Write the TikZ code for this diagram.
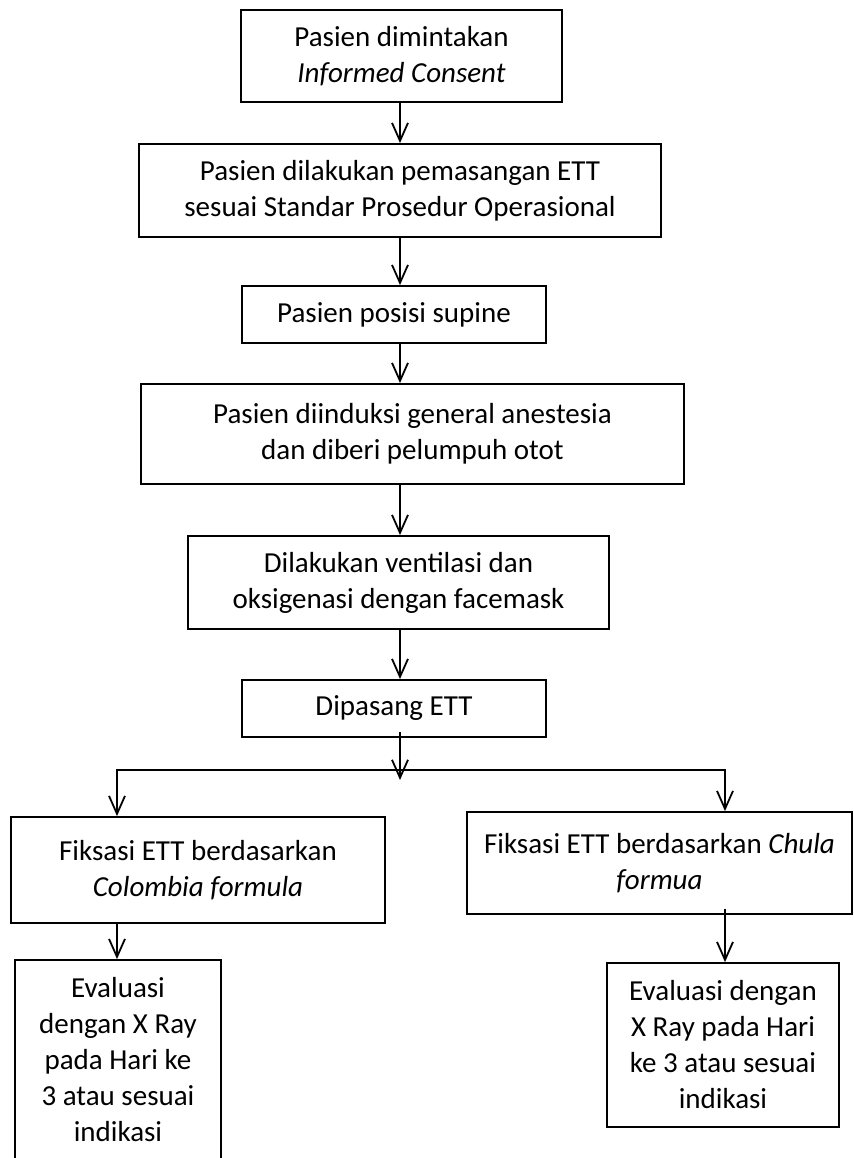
\documentclass[tikz,border=0pt]{standalone}
\usepackage{fontspec}
\setmainfont{Carlito}
\usetikzlibrary{arrows.meta}
\begin{document}
\begin{tikzpicture}[x=0.5pt,y=-0.5pt,
  box/.style={draw, line width=0.9pt, align=center, inner sep=0pt, font=\fontsize{14.5}{18}\selectfont},
  sz/.style 2 args={minimum width=#1*0.5pt, minimum height=#2*0.5pt},
  conn/.style={line width=0.9pt, line cap=rect},
  arr/.style={line width=0.9pt, -{Straight Barb[length=9pt,width=8pt,line width=0.9pt]}}]
\useasboundingbox (0,0) rectangle (854,1158);
\node[box, sz={321}{92}] (b1) at (401.5,56) {Pasien dimintakan\\\textit{Informed Consent}};
\node[box, sz={522}{93}] (b2) at (400,190.5) {Pasien dilakukan pemasangan ETT\\sesuai Standar Prosedur Operasional};
\node[box, sz={304}{57}] (b3) at (394,314.5) {Pasien posisi supine};
\node[box, sz={543}{100}] (b4) at (412.5,434) {Pasien diinduksi general anestesia\\dan diberi pelumpuh otot};
\node[box, sz={421}{93}] (b5) at (398.5,582.5) {Dilakukan ventilasi dan\\oksigenasi dengan facemask};
\node[box, sz={304}{57}] (b6) at (394,708.5) {Dipasang ETT};
\node[box, sz={374}{106}] (b7) at (198,870) {Fiksasi ETT berdasarkan\\\textit{Colombia formula}};
\node[box, sz={385}{102}] (b8) at (659.5,863) {Fiksasi ETT berdasarkan \textit{Chula}\\\textit{formua}};
\node[box, sz={206}{200}] (b9) at (118,1060) {Evaluasi\\dengan X Ray\\pada Hari ke\\3 atau sesuai\\indikasi};
\node[box, sz={232}{164}] (b10) at (723,1045) {Evaluasi dengan\\X Ray pada Hari\\ke 3 atau sesuai\\indikasi};
\coordinate (ax) at (400,0);
\coordinate (hl) at (117,770);
\coordinate (hr) at (725,770);
\coordinate (mid) at (400,780);
\draw[arr] (ax |- b1.south) -- (ax |- b2.north);
\draw[arr] (ax |- b2.south) -- (ax |- b3.north);
\draw[arr] (ax |- b3.south) -- (ax |- b4.north);
\draw[arr] (ax |- b4.south) -- (ax |- b5.north);
\draw[arr] (ax |- b5.south) -- (ax |- b6.north);
\draw[arr] ([yshift=3pt]ax |- b6.south) -- (mid);
\draw[conn] (hl) -- (hr);
\draw[arr] (hl) -- (hl |- b7.north);
\draw[arr] (hr) -- (hr |- b8.north);
\draw[arr] (hl |- b7.south) -- (hl |- b9.north);
\draw[arr] ([yshift=3pt]hr |- b8.south) -- (hr |- b10.north);
\end{tikzpicture}
\end{document}
